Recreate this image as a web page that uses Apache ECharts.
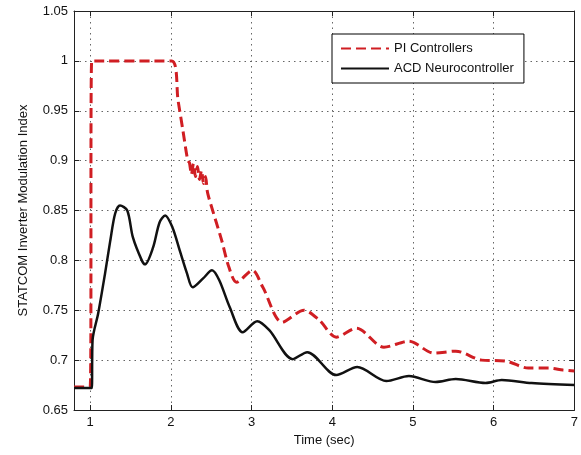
<!DOCTYPE html>
<html>
<head>
<meta charset="utf-8">
<script src="https://cdn.jsdelivr.net/npm/echarts@6/dist/echarts.min.js"></script>
<style>
html, body { margin: 0; padding: 0; background: #fff; }
#chart { width: 581px; height: 455px; }
</style>
</head>
<body>
<div id="chart"></div>
<script>
// tick values
var xTicks = [1, 2, 3, 4, 5, 6, 7];

// ACD Neurocontroller (solid black)
var acdTime = [0.8, 1.0, 1.02, 1.03, 1.10, 1.185, 1.25, 1.31, 1.37, 1.46, 1.53, 1.64, 1.68, 1.78, 1.86, 1.93,
    2.02, 2.11, 2.20, 2.27, 2.40, 2.51, 2.60, 2.73, 2.89, 3.07, 3.22, 3.51, 3.69, 4.05, 4.31, 4.67, 4.95,
    5.28, 5.53, 5.90, 6.10, 6.47, 7.0];
var acdValue = [0.672, 0.672, 0.672, 0.72, 0.747, 0.787, 0.82, 0.847, 0.855, 0.85, 0.823, 0.80, 0.796, 0.813, 0.838, 0.845,
    0.833, 0.81, 0.787, 0.773, 0.782, 0.79, 0.78, 0.753, 0.728, 0.739, 0.73, 0.701, 0.708, 0.685, 0.693, 0.679, 0.684,
    0.678, 0.681, 0.677, 0.680, 0.677, 0.675];

// PI Controllers (dashed red)
var piTime = [0.8, 1.0, 1.02, 2.01, 2.09, 2.15, 2.21, 2.23, 2.255, 2.28, 2.305, 2.33, 2.355, 2.38, 2.405, 2.43, 2.45,
    2.47, 2.63, 2.72, 2.815, 3.01, 3.14, 3.38, 3.65, 3.84, 4.05, 4.30, 4.64, 4.95, 5.26, 5.53, 5.85, 6.15,
    6.43, 6.68, 6.86, 7.0];
var piValue = [0.673, 0.673, 1.0, 1.0, 0.96, 0.93, 0.90, 0.898, 0.886, 0.897, 0.884, 0.894, 0.881, 0.89, 0.877, 0.884, 0.87,
    0.863, 0.82, 0.793, 0.778, 0.79, 0.773, 0.738, 0.75, 0.74, 0.723, 0.732, 0.713, 0.719, 0.707, 0.709, 0.70, 0.699,
    0.692, 0.692, 0.69, 0.689];

function pairs(t, v) {
    var out = [];
    for (var i = 0; i < t.length; i++) out.push([t[i], v[i]]);
    return out;
}

var font = 'Liberation Sans';
var gridDots = { type: [1.5, 4], color: '#666', width: 1 };
var chart = echarts.init(document.getElementById('chart'), null, { renderer: 'canvas' });

var option = {
    backgroundColor: '#fff',
    animation: false,
    textStyle: { fontFamily: font },
    grid: { left: 74, right: 4, top: 11, bottom: 45 },
    legend: {
        orient: 'vertical',
        left: 332,
        top: 34,
        padding: [8, 10, 8, 8],
        itemGap: 7,
        itemWidth: 48,
        itemHeight: 10,
        backgroundColor: '#fff',
        borderColor: '#000',
        borderWidth: 1,
        borderRadius: 0,
        itemStyle: { opacity: 0 },
        textStyle: { fontFamily: font, fontSize: 13, color: '#111' },
        data: ['PI Controllers', 'ACD Neurocontroller']
    },
    xAxis: [{
        type: 'value',
        min: 0.8,
        max: 7,
        name: 'Time (sec)',
        nameLocation: 'middle',
        nameGap: 24,
        nameTextStyle: { fontFamily: font, fontSize: 13, color: '#111' },
        axisLine: { lineStyle: { color: '#222', width: 1 } },
        axisTick: { inside: true, length: 5, customValues: xTicks, lineStyle: { color: '#222' } },
        axisLabel: { customValues: xTicks, fontFamily: font, fontSize: 13, color: '#111', margin: 6 },
        splitLine: { show: true, lineStyle: gridDots }
    }, {
        type: 'value',
        position: 'top',
        min: 0.8,
        max: 7,
        axisLine: { show: true, lineStyle: { color: '#222', width: 1 } },
        axisTick: { inside: true, length: 5, customValues: xTicks, lineStyle: { color: '#222' } },
        axisLabel: { show: false },
        splitLine: { show: false }
    }],
    yAxis: [{
        type: 'value',
        min: 0.65,
        max: 1.05,
        interval: 0.05,
        name: 'STATCOM Inverter Modulation Index',
        nameLocation: 'middle',
        nameGap: 44,
        nameTextStyle: { fontFamily: font, fontSize: 13, color: '#111' },
        axisLine: { show: true, lineStyle: { color: '#222', width: 1 } },
        axisTick: { inside: true, length: 5, lineStyle: { color: '#222' } },
        axisLabel: { fontFamily: font, fontSize: 13, color: '#111', margin: 6 },
        splitLine: { show: true, lineStyle: gridDots }
    }, {
        type: 'value',
        position: 'right',
        min: 0.65,
        max: 1.05,
        interval: 0.05,
        axisLine: { show: true, lineStyle: { color: '#222', width: 1 } },
        axisTick: { inside: true, length: 5, lineStyle: { color: '#222' } },
        axisLabel: { show: false },
        splitLine: { show: false }
    }],
    series: [{
        name: 'PI Controllers',
        type: 'line',
        data: pairs(piTime, piValue),
        symbol: 'none',
        smooth: 0.3,
        z: 3,
        itemStyle: { color: '#d01e23' },
        lineStyle: { color: '#d01e23', width: 3, type: [10, 5] }
    }, {
        name: 'ACD Neurocontroller',
        type: 'line',
        data: pairs(acdTime, acdValue),
        symbol: 'none',
        smooth: 0.3,
        z: 4,
        itemStyle: { color: '#111' },
        lineStyle: { color: '#111', width: 2.5 }
    }]
};

chart.setOption(option);
</script>
</body>
</html>
